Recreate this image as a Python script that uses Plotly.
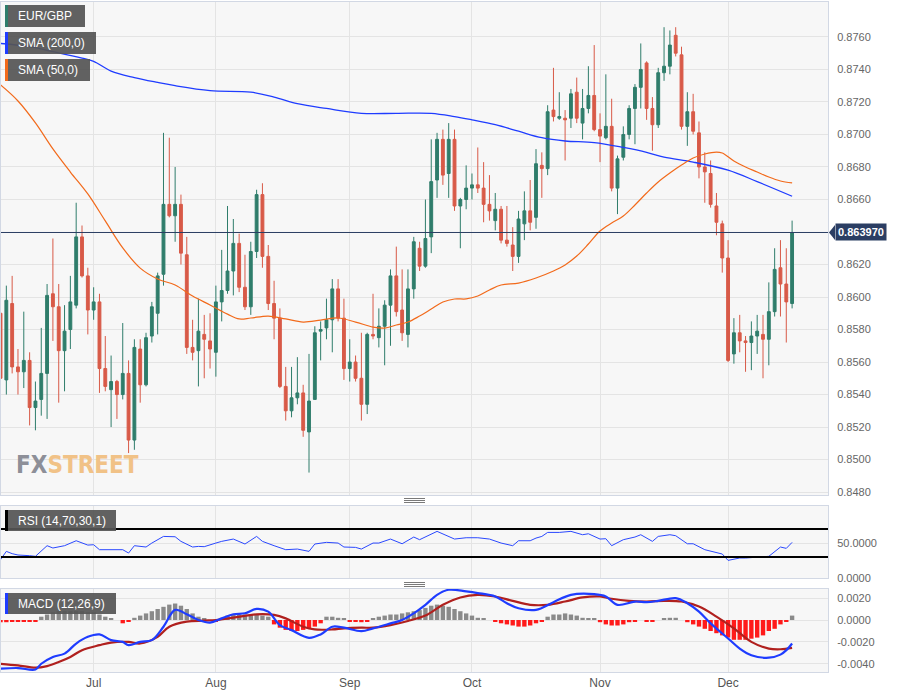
import pandas as pd
import plotly.graph_objects as go

# ---------------- data ----------------
dates = pd.bdate_range("2023-06-09", "2023-12-18")

opens = [0.8590,0.8549,0.8596,0.8557,0.8554,0.8561,0.8532,0.8537,0.8553,0.8602,
         0.8594,0.8567,0.8580,0.8595,0.8637,0.8613,0.8592,0.8597,0.8556,0.8543,
         0.8548,0.8540,0.8553,0.8512,0.8568,0.8546,0.8576,0.8590,0.8614,0.8657,
         0.8650,0.8657,0.8626,0.8569,0.8567,0.8577,0.8573,0.8566,0.8597,0.8604,
         0.8616,0.8633,0.8606,0.8594,0.8628,0.8663,0.8625,0.8596,0.8587,0.8545,
         0.8530,0.8538,0.8541,0.8517,0.8537,0.8579,0.8581,0.8586,0.8605,0.8587,
         0.8556,0.8560,0.8550,0.8534,0.8577,0.8575,0.8582,0.8595,0.8613,0.8592,
         0.8577,0.8605,0.8630,0.8619,0.8637,0.8672,0.8697,0.8676,0.8697,0.8656,
         0.8660,0.8667,0.8669,0.8667,0.8657,0.8647,0.8654,0.8635,0.8632,0.8625,
         0.8645,0.8653,0.8649,0.8681,0.8679,0.8715,0.8710,0.8710,0.8710,0.8726,
         0.8707,0.8716,0.8724,0.8703,0.8698,0.8705,0.8667,0.8686,0.8700,0.8716,
         0.8729,0.8744,0.8716,0.8706,0.8738,0.8742,0.8761,0.8749,0.8705,0.8714,
         0.8701,0.8680,0.8676,0.8656,0.8645,0.8624,0.8565,0.8578,0.8573,0.8572,
         0.8576,0.8577,0.8574,0.8591,0.8618,0.8608,0.8596]
highs = [0.8602,0.8607,0.8613,0.8568,0.8591,0.8566,0.8548,0.8581,0.8608,0.8636,
         0.8608,0.8595,0.8613,0.8658,0.8644,0.8618,0.8606,0.8602,0.8576,0.8564,
         0.8549,0.8584,0.8561,0.8574,0.8574,0.8578,0.8597,0.8615,0.8701,0.8698,
         0.8680,0.8663,0.8637,0.8586,0.8599,0.8589,0.8590,0.8607,0.8629,0.8656,
         0.8648,0.8639,0.8626,0.8634,0.8666,0.8670,0.8632,0.8610,0.8593,0.8557,
         0.8557,0.8563,0.8546,0.8565,0.8582,0.8585,0.8599,0.8611,0.8611,0.8599,
         0.8574,0.8564,0.8578,0.8578,0.8602,0.8593,0.8598,0.8617,0.8631,0.8617,
         0.8617,0.8637,0.8634,0.8660,0.8697,0.8701,0.8703,0.8707,0.8703,0.8661,
         0.8681,0.8676,0.8692,0.8683,0.8675,0.8664,0.8656,0.8656,0.8643,0.8653,
         0.8665,0.8672,0.8691,0.8689,0.8718,0.8741,0.8726,0.8715,0.8728,0.8735,
         0.8728,0.8742,0.8755,0.8713,0.8737,0.8722,0.8687,0.8705,0.8718,0.8731,
         0.8756,0.8745,0.8723,0.8741,0.8766,0.8764,0.8766,0.8754,0.8726,0.8725,
         0.8708,0.8689,0.8684,0.8664,0.8647,0.8635,0.8587,0.8589,0.8576,0.8585,
         0.8589,0.8589,0.8609,0.8630,0.8635,0.8630,0.8647]
lows = [0.8542,0.8540,0.8553,0.8540,0.8544,0.8521,0.8518,0.8527,0.8525,0.8573,
        0.8535,0.8542,0.8568,0.8593,0.8612,0.8577,0.8586,0.8541,0.8542,0.8520,
        0.8525,0.8537,0.8504,0.8506,0.8535,0.8545,0.8572,0.8577,0.8607,0.8649,
        0.8634,0.8620,0.8565,0.8561,0.8545,0.8550,0.8556,0.8551,0.8585,0.8602,
        0.8601,0.8603,0.8592,0.8589,0.8624,0.8618,0.8592,0.8574,0.8544,0.8524,
        0.8526,0.8534,0.8514,0.8492,0.8537,0.8561,0.8574,0.8566,0.8585,0.8549,
        0.8548,0.8548,0.8524,0.8528,0.8574,0.8569,0.8558,0.8570,0.8588,0.8573,
        0.8569,0.8599,0.8616,0.8618,0.8627,0.8661,0.8669,0.8661,0.8653,0.8630,
        0.8654,0.8660,0.8664,0.8646,0.8647,0.8641,0.8633,0.8631,0.8616,0.8621,
        0.8635,0.8641,0.8642,0.8661,0.8675,0.8708,0.8709,0.8684,0.8704,0.8707,
        0.8697,0.8713,0.8702,0.8683,0.8697,0.8665,0.8651,0.8684,0.8697,0.8694,
        0.8716,0.8709,0.8690,0.8704,0.8733,0.8737,0.8748,0.8703,0.8693,0.8700,
        0.8673,0.8658,0.8655,0.8638,0.8615,0.8560,0.8559,0.8566,0.8554,0.8555,
        0.8565,0.8550,0.8558,0.8588,0.8588,0.8572,0.8593]
closes = [0.8550,0.8598,0.8557,0.8554,0.8561,0.8532,0.8536,0.8553,0.8601,0.8594,
          0.8567,0.8579,0.8597,0.8637,0.8613,0.8592,0.8597,0.8556,0.8545,0.8548,
          0.8540,0.8553,0.8512,0.8569,0.8546,0.8575,0.8594,0.8613,0.8657,0.8650,
          0.8657,0.8627,0.8569,0.8566,0.8579,0.8574,0.8568,0.8597,0.8604,0.8616,
          0.8633,0.8606,0.8594,0.8628,0.8663,0.8625,0.8596,0.8587,0.8545,0.8530,
          0.8538,0.8541,0.8518,0.8536,0.8578,0.8580,0.8586,0.8605,0.8587,0.8556,
          0.8560,0.8550,0.8534,0.8577,0.8576,0.8582,0.8595,0.8613,0.8591,0.8578,
          0.8605,0.8634,0.8619,0.8636,0.8671,0.8697,0.8675,0.8697,0.8656,0.8660,
          0.8667,0.8669,0.8667,0.8657,0.8653,0.8654,0.8635,0.8633,0.8625,0.8648,
          0.8653,0.8646,0.8682,0.8679,0.8714,0.8711,0.8711,0.8709,0.8725,0.8710,
          0.8716,0.8724,0.8703,0.8699,0.8705,0.8667,0.8685,0.8700,0.8716,0.8729,
          0.8740,0.8716,0.8706,0.8738,0.8742,0.8755,0.8750,0.8705,0.8714,0.8702,
          0.8680,0.8677,0.8657,0.8646,0.8624,0.8561,0.8578,0.8573,0.8572,0.8576,
          0.8579,0.8574,0.8591,0.8617,0.8608,0.8597,0.863970]
last_price = 0.863970

sma200_idx = [0,5,9,14,16,19,23,27,30,36,43,47,51,56,62,68,74,78,81,85,89,93,97,
              102,107,111,114,119,125,130,136]
sma200_val = [0.8756,0.8754,0.8751,0.8747,0.8745,0.8739,0.8735,0.8732,0.8730,0.8727,
              0.8726,0.8723,0.8719,0.8716,0.8713,0.8713,0.8713,0.8711,0.8709,0.8706,
              0.8702,0.8698,0.8696,0.8695,0.8692,0.8689,0.8686,0.8683,0.8678,0.8671,
              0.8662]

sma50_idx = [0,3,6,9,12,15,18,21,24,27,30,33,36,39,41,43,46,49,52,55,58,61,64,66,
             68,70,72,74,76,78,80,82,84,86,89,92,95,97,99,101,103,105,107,109,111,
             113,115,117,119,121,123,124,126,128,130,132,134,136]
sma50_val = [0.87305,0.87206,0.87071,0.86911,0.86769,0.86634,0.86468,0.86302,0.86178,
             0.86111,0.86074,0.86006,0.85951,0.85895,0.85865,0.85871,0.85883,0.85865,
             0.85846,0.85858,0.85871,0.85846,0.85815,0.85809,0.85828,0.85846,0.85883,
             0.85926,0.85969,0.85988,0.85988,0.86006,0.86043,0.86074,0.86086,0.86117,
             0.86160,0.86197,0.86252,0.86326,0.86406,0.86455,0.86498,0.86566,0.86640,
             0.86708,0.86763,0.86812,0.86855,0.86880,0.86892,0.86886,0.86837,0.86800,
             0.86769,0.86738,0.86714,0.86702]

rsi_idx = [0,1,2,3,5,6,8,9,11,13,15,16,17,19,21,22,23,25,26,28,30,31,33,34,35,37,38,
           40,42,44,45,47,49,51,53,54,56,58,59,61,62,64,65,67,69,71,72,75,76,78,80,
           82,84,86,88,89,91,92,93,94,96,98,100,101,103,104,105,107,109,110,112,113,
           115,116,118,119,121,124,125,127,128,130,132,134,135,136]
rsi_val = [26.2,38.1,34.8,32.9,31.9,31.0,46.2,42.9,46.2,53.3,47.1,47.6,40.5,40.0,40.5,
           35.7,46.2,44.3,50.0,59.5,59.0,52.4,44.3,45.2,44.8,50.0,52.4,55.7,48.6,59.5,
           52.4,46.2,40.5,41.4,38.1,48.6,51.0,50.0,44.3,43.8,41.4,50.0,50.0,55.7,49.0,
           58.6,54.8,66.7,63.3,55.7,57.6,57.6,55.7,50.0,46.2,53.3,53.3,57.1,59.5,65.2,
           65.2,66.7,61.9,63.3,55.7,56.2,46.2,54.8,58.6,61.9,52.4,59.5,61.9,60.5,49.0,
           49.0,40.5,34.3,25.2,28.6,28.6,29.5,31.0,44.3,42.4,51.0]

macd_idx = [0,3,6,7,9,11,13,15,17,19,21,22,24,26,28,30,32,34,36,38,40,42,44,46,48,50,
            53,55,57,59,62,64,67,69,71,73,75,77,80,82,85,87,89,92,95,98,102,104,106,
            109,111,113,116,118,120,122,125,127,129,132,134,135,136]
macd_val = [-0.00443,-0.00437,-0.00450,-0.00398,-0.00336,-0.00306,-0.00214,-0.00153,
            -0.00131,-0.00183,-0.00199,-0.00229,-0.00199,-0.00183,-0.00061,0.00092,
            0.00052,0.00000,-0.00024,0.00015,0.00052,0.00061,0.00101,0.00076,-0.00046,
            -0.00092,-0.00162,-0.00131,-0.00061,-0.00070,-0.00101,-0.00076,-0.00031,
            0.00000,0.00061,0.00138,0.00229,0.00275,0.00260,0.00245,0.00214,0.00153,
            0.00107,0.00092,0.00162,0.00229,0.00235,0.00214,0.00138,0.00168,0.00162,
            0.00174,0.00199,0.00153,0.00076,-0.00031,-0.00168,-0.00260,-0.00321,
            -0.00343,-0.00315,-0.00275,-0.00214]

signal_idx = [0,3,6,8,10,12,14,17,19,22,24,27,29,32,35,37,40,44,47,49,52,54,57,59,62,
              64,67,70,73,76,79,82,85,88,91,94,97,100,103,105,108,111,114,117,120,123,
              126,129,132,134,136]
signal_val = [-0.00398,-0.00413,-0.00434,-0.00419,-0.00382,-0.00336,-0.00275,-0.00229,
              -0.00205,-0.00199,-0.00214,-0.00153,-0.00061,-0.00015,-0.00006,0.00000,
              0.00021,0.00052,0.00046,0.00015,-0.00061,-0.00086,-0.00086,-0.00076,
              -0.00070,-0.00070,-0.00046,-0.00009,0.00040,0.00138,0.00205,0.00229,
              0.00214,0.00174,0.00138,0.00138,0.00168,0.00205,0.00214,0.00193,0.00174,
              0.00168,0.00174,0.00168,0.00122,0.00031,-0.00076,-0.00199,-0.00260,
              -0.00266,-0.00254]

hist_val = [-0.0002,-0.0002,-0.00015,-0.00015,-0.00015,-0.00015,-0.0001,0.0003,0.0005,0.0007,
            0.0008,0.0008,0.0008,0.0008,0.0008,0.0007,0.0007,0.0005,0.0003,0.0001,
            0.0000,-0.0003,-0.0001,0.0002,0.0004,0.0006,0.0008,0.0010,0.0012,0.0014,
            0.0015,0.0013,0.0010,0.0006,0.0003,0.0001,0.0000,-0.0001,0.0002,0.0004,
            0.0005,0.0005,0.0005,0.0005,0.0005,0.0004,0.0003,-0.0004,-0.0007,-0.0009,
            -0.0010,-0.0010,-0.0009,-0.0008,-0.0006,-0.0003,0.0003,0.0003,0.0002,0.0001,
            -0.0001,-0.0001,-0.0002,-0.0001,0.0001,0.0003,0.0004,0.0005,0.0005,0.0006,
            0.0007,0.0008,0.0009,0.0011,0.0013,0.0014,0.0013,0.0012,0.0010,0.0008,
            0.0006,0.0004,0.0002,0.0001,0.0000,-0.0001,-0.0003,-0.0004,-0.0005,-0.0006,
            -0.0006,-0.0005,-0.0003,-0.0001,0.0003,0.0005,0.0005,0.0006,0.0005,0.0004,
            0.0002,0.0001,0.0001,-0.0002,-0.0004,-0.0005,-0.0005,-0.0004,-0.0002,-0.0001,
            0.0000,-0.0001,-0.0001,0.0000,0.0001,0.0002,0.0002,0.0000,-0.0002,-0.0004,
            -0.0006,-0.0008,-0.0010,-0.0012,-0.0014,-0.0016,-0.0018,-0.0018,-0.0018,-0.0017,
            -0.0016,-0.0014,-0.0010,-0.0008,-0.0004,-0.0001,0.0004]

month_ticks = ["2023-07-03", "2023-08-01", "2023-09-01", "2023-10-02", "2023-11-01", "2023-12-01"]
month_labels = ["Jul", "Aug", "Sep", "Oct", "Nov", "Dec"]
price_ticks = [0.8480, 0.8500, 0.8520, 0.8540, 0.8560, 0.8580, 0.8600, 0.8620,
               0.8640, 0.8660, 0.8680, 0.8700, 0.8720, 0.8740, 0.8760]
price_labels = ["0.8480", "0.8500", "0.8520", "0.8540", "0.8560", "0.8580", "0.8600",
                "0.8620", "", "0.8660", "0.8680", "0.8700", "0.8720", "0.8740", "0.8760"]
rsi_ticks = [0, 50]
rsi_labels = ["0.0000", "50.0000"]
macd_ticks = [-0.004, -0.002, 0.0, 0.002]
macd_labels = ["-0.0040", "-0.0020", "0.0000", "0.0020"]

# ---------------- styling ----------------
W, H = 898, 697
ML, MR, MT, MB = 1, 70, 2, 25
PW = W - ML - MR
PH = H - MT - MB


def px_x(x):
    return (x - ML) / PW


def px_y(y):
    return (H - MB - y) / PH


GREEN = "#2f7d6b"
RED = "#d85a48"
GRID = "#e4e4e4"
BORDER = "#d2d8e4"
NAVY = "#2b3e63"
FONT = "Liberation Sans, Arial, sans-serif"

fig = go.Figure()

fig.add_trace(go.Candlestick(
    x=dates, open=opens, high=highs, low=lows, close=closes,
    increasing=dict(line=dict(color=GREEN, width=1), fillcolor=GREEN),
    decreasing=dict(line=dict(color=RED, width=1), fillcolor=RED),
    whiskerwidth=0, showlegend=False, xaxis="x", yaxis="y", hoverinfo="skip"))

fig.add_trace(go.Scatter(x=dates[sma200_idx], y=sma200_val, mode="lines",
                         line=dict(color="#1f3cff", width=1.3, shape="spline"),
                         showlegend=False, xaxis="x", yaxis="y", hoverinfo="skip"))
fig.add_trace(go.Scatter(x=dates[sma50_idx], y=sma50_val, mode="lines",
                         line=dict(color="#f26a1b", width=1.2, shape="spline"),
                         showlegend=False, xaxis="x", yaxis="y", hoverinfo="skip"))

fig.add_trace(go.Scatter(x=dates[rsi_idx], y=rsi_val, mode="lines",
                         line=dict(color="#2a48ff", width=1),
                         showlegend=False, xaxis="x2", yaxis="y2", hoverinfo="skip"))

hist_colors = ["#8a8a8a" if v >= 0 else "#ff1a1a" for v in hist_val]
fig.add_trace(go.Bar(x=dates, y=hist_val, marker=dict(color=hist_colors, line=dict(width=0)),
                     width=0.75 * 86400000, showlegend=False, xaxis="x3", yaxis="y3",
                     hoverinfo="skip"))
fig.add_trace(go.Scatter(x=dates[signal_idx], y=signal_val, mode="lines",
                         line=dict(color="#b0201e", width=2.2, shape="spline"),
                         showlegend=False, xaxis="x3", yaxis="y3", hoverinfo="skip"))
fig.add_trace(go.Scatter(x=dates[macd_idx], y=macd_val, mode="lines",
                         line=dict(color="#1e3cff", width=2.2, shape="spline"),
                         showlegend=False, xaxis="x3", yaxis="y3", hoverinfo="skip"))

xrange = ["2023-06-09 02:00", "2023-12-26 04:00"]
rb = [dict(bounds=["sat", "mon"])]
common_x = dict(type="date", range=xrange, rangebreaks=rb, tickvals=month_ticks,
                ticktext=month_labels, showgrid=True, gridcolor=GRID, gridwidth=1,
                showline=True, linecolor=BORDER, linewidth=1, mirror=True,
                zeroline=False, rangeslider=dict(visible=False), ticks="",
                automargin=False)
common_y = dict(side="right", showgrid=True, gridcolor=GRID, gridwidth=1,
                showline=True, linecolor=BORDER, linewidth=1, mirror=True,
                zeroline=False, ticks="outside", ticklen=6, tickcolor="rgba(0,0,0,0)",
                tickfont=dict(family=FONT, size=11, color="#666666"), automargin=False)

fig.update_layout(
    width=W, height=H,
    margin=dict(l=ML, r=MR, t=MT, b=MB, pad=0),
    paper_bgcolor="white", plot_bgcolor="#f7f7f7",
    showlegend=False, hovermode=False,
    xaxis=dict(common_x, anchor="y", showticklabels=False),
    xaxis2=dict(common_x, anchor="y2", matches="x", showticklabels=False),
    xaxis3=dict(common_x, anchor="y3", matches="x", showticklabels=True,
                tickfont=dict(family=FONT, size=12, color="#555555")),
    yaxis=dict(common_y, domain=[px_y(495), px_y(2)], anchor="x",
               range=[0.84782, 0.87815], tickvals=price_ticks, ticktext=price_labels),
    yaxis2=dict(common_y, domain=[px_y(578), px_y(506)], anchor="x2",
                range=[0, 103], tickvals=rsi_ticks, ticktext=rsi_labels),
    yaxis3=dict(common_y, domain=[px_y(672), px_y(589)], anchor="x3",
                range=[-0.00473, 0.00282], tickvals=macd_ticks, ticktext=macd_labels),
)

shapes = []
# RSI 70 / 30 lines
for lvl in (70, 30):
    shapes.append(dict(type="line", xref="x2 domain", yref="y2", x0=0, x1=1, y0=lvl, y1=lvl,
                       line=dict(color="black", width=2)))
# current price line
shapes.append(dict(type="line", xref="x domain", yref="y", x0=0, x1=1,
                   y0=last_price, y1=last_price, line=dict(color=NAVY, width=1)))
# price tag pointer
dy = 7.5 / 16250
shapes.append(dict(type="path", xref="paper", yref="y",
                   path=f"M {px_x(829)},{last_price} L {px_x(835)},{last_price + dy} "
                        f"L {px_x(835)},{last_price - dy} Z",
                   fillcolor=NAVY, line=dict(width=0)))

# legend boxes
boxes = [("EUR/GBP", 5, 85, 5, 27, GREEN),
         ("SMA (200,0)", 5, 96, 32, 54, "#1f3cff"),
         ("SMA (50,0)", 5, 90, 59, 81, "#f26a1b"),
         ("RSI (14,70,30,1)", 5, 116, 510, 531, "#000000"),
         ("MACD (12,26,9)", 5, 116, 593, 614, "#1e3cff")]
annotations = []
for label, x0, x1, y0, y1, col in boxes:
    shapes.append(dict(type="rect", xref="paper", yref="paper",
                       x0=px_x(x0), x1=px_x(x1), y0=px_y(y1), y1=px_y(y0),
                       fillcolor="rgba(85,85,85,0.93)", line=dict(width=0)))
    shapes.append(dict(type="rect", xref="paper", yref="paper",
                       x0=px_x(x0), x1=px_x(x0 + 3), y0=px_y(y1), y1=px_y(y0),
                       fillcolor=col, line=dict(width=0)))
    annotations.append(dict(xref="paper", yref="paper", x=px_x(x0 + 11),
                            y=px_y((y0 + y1) / 2), text=label, showarrow=False,
                            xanchor="left", yanchor="middle",
                            font=dict(family=FONT, size=12, color="white")))

# panel separators
for yc in (500.5, 584.5):
    for dyy in (-2, 0, 2):
        shapes.append(dict(type="line", xref="paper", yref="paper",
                           x0=px_x(404), x1=px_x(425), y0=px_y(yc + dyy), y1=px_y(yc + dyy),
                           line=dict(color="#7a7a7a", width=1)))

# price tag
annotations.append(dict(xref="paper", yref="y", x=px_x(835), y=last_price,
                        text="<b>0.863970</b>", showarrow=False, xanchor="left",
                        yanchor="middle", bgcolor=NAVY, borderpad=2,
                        font=dict(family=FONT, size=11, color="white")))
# watermark
annotations.append(dict(xref="paper", yref="paper", x=px_x(14), y=px_y(465),
                        text="<b><span style='color:#8d8f98'>FX</span>"
                             "<span style='color:#f1c287'>STREET</span></b>",
                        showarrow=False, xanchor="left", yanchor="middle",
                        font=dict(family="Liberation Sans Narrow, DejaVu Sans Condensed, Liberation Sans, sans-serif",
                                  size=24)))

fig.update_layout(shapes=shapes, annotations=annotations)

fig.write_html("out.html", config={"displayModeBar": False},
               post_script="document.body.style.margin='0';document.body.style.overflow='hidden';")
